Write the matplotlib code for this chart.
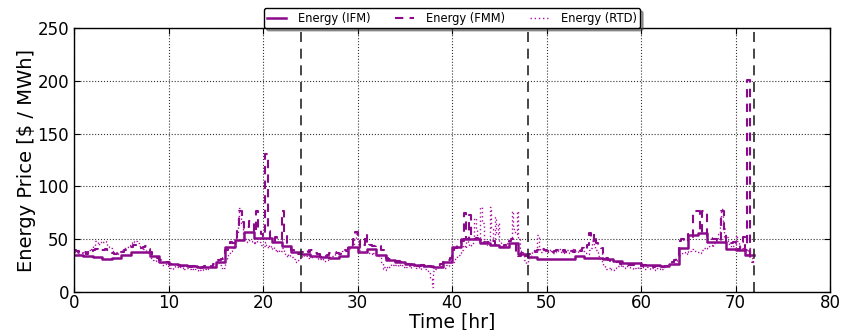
import matplotlib
matplotlib.use("Agg")
import matplotlib.pyplot as plt
import numpy as np

# 日前市场 (IFM) 小时价格, $/MWh
ifm_price = [
    35.5, 34, 33, 31.5, 32.5, 35.5, 38, 38, 34, 28.5, 27, 26,
    24.5, 23.5, 23.5, 28.5, 43, 49.5, 57, 51, 51, 47.5, 44, 37.5,
    36, 34.5, 33.5, 32.5, 34.5, 42.5, 38, 41, 35.5, 30, 28.5, 27,
    25.5, 24.5, 23.5, 28.5, 42.5, 50.5, 50.5, 46, 44.5, 42.5, 46.5, 36,
    33.5, 31.5, 31.5, 31.5, 31, 34.5, 32, 32, 31.5, 29.5, 27.5, 27.5,
    25.5, 25.5, 24.5, 26.5, 41.5, 54, 56, 47.5, 47.5, 41, 39.5, 35,
]

# 15 分钟市场 (FMM), 每小时 4 个值
fmm_price = [
    40, 39, 37, 38,   38, 36, 40, 39,   40, 41, 39, 40,   40, 41, 40, 38,
    37, 36, 38, 37,   38, 40, 41, 42,   43, 45, 45, 44,   42, 43, 44, 41,
    38, 36, 34, 32,   30, 29, 28, 28,   27, 27, 26, 26,   26, 25, 25, 26,
    25, 24, 25, 24,   24, 23, 24, 25,   25, 26, 24, 27,   29, 30, 31, 32,
    40, 44, 47, 46,   50, 62, 77, 66,   60, 62, 67, 67,   56, 77, 60, 55,
    52, 131, 58, 50,  48, 52, 50, 49,   77, 55, 46, 45,   40, 38, 37, 36,
    38, 39, 40, 38,   40, 38, 37, 36,   34, 33, 34, 35,   37, 38, 38, 37,
    36, 38, 40, 39,   42, 45, 50, 57,   54, 42, 45, 55,   44, 45, 44, 44,
    45, 44, 40, 37,   32, 31, 30, 30,   29, 29, 28, 28,   27, 27, 26, 27,
    26, 25, 25, 26,   24, 24, 25, 24,   24, 25, 26, 27,   28, 29, 30, 32,
    38, 42, 45, 46,   48, 75, 50, 73,   52, 50, 51, 50,   48, 47, 46, 47,
    46, 48, 45, 44,   44, 43, 45, 44,   48, 50, 47, 35,   34, 37, 33, 34,
    36, 38, 39, 38,   40, 39, 41, 40,   39, 40, 38, 39,   40, 39, 38, 40,
    38, 40, 39, 38,   40, 41, 39, 42,   40, 45, 56, 48,   55, 46, 44, 42,
    36, 32, 30, 29,   29, 28, 28, 27,   27, 27, 26, 26,   26, 27, 26, 26,
    25, 26, 25, 25,   25, 24, 25, 26,   24, 24, 25, 25,   27, 28, 30, 32,
    48, 50, 49, 47,   55, 52, 77, 77,   77, 56, 77, 77,   52, 51, 50, 50,
    48, 47, 77, 60,   47, 48, 46, 47,   45, 40, 47, 52,   40, 201, 30, 28,
]

# 实时调度 (RTD), 每小时 6 个值
rtd_price = [
    38, 37, 38, 36, 37, 39,   37, 36, 38, 40, 39, 41,   44, 48, 47, 45, 46, 48,
    47, 48, 46, 44, 43, 42,   39, 38, 37, 36, 37, 38,   40, 41, 42, 43, 44, 45,
    46, 48, 47, 48, 46, 44,   42, 43, 41, 40, 38, 37,   35, 32, 30, 29, 30, 29,
    28, 27, 26, 26, 27, 25,   24, 23, 22, 24, 25, 24,   25, 24, 23, 24, 22, 23,
    23, 22, 21, 22, 23, 22,   21, 20, 21, 22, 21, 22,   23, 22, 24, 25, 26, 25,
    27, 28, 26, 24, 22, 23,   30, 34, 37, 39, 40, 42,   45, 55, 72, 80, 65, 52,
    50, 48, 47, 49, 48, 46,   48, 46, 50, 52, 47, 45,   44, 47, 43, 42, 45, 41,
    43, 40, 41, 38, 40, 39,   42, 38, 35, 33, 36, 34,   33, 31, 30, 28, 30, 32,
    34, 33, 35, 34, 32, 33,   33, 32, 34, 33, 31, 32,   31, 30, 31, 29, 30, 31,
    32, 33, 34, 35, 36, 37,   38, 37, 39, 40, 41, 40,   41, 43, 44, 45, 50, 56,
    48, 40, 38, 37, 39, 38,   38, 37, 36, 38, 37, 36,   35, 34, 33, 28, 22, 24,
    21, 25, 24, 27, 26, 25,   26, 25, 27, 25, 26, 24,   25, 24, 25, 23, 24, 25,
    24, 23, 24, 22, 23, 24,   23, 22, 21, 18, 12, 5,    20, 22, 23, 24, 25, 26,
    24, 23, 26, 25, 27, 28,   28, 30, 32, 34, 35, 37,   40, 45, 42, 48, 46, 44,
    45, 52, 70, 60, 48, 46,   81, 65, 50, 47, 45, 48,   81, 60, 50, 71, 55, 65,
    47, 44, 45, 43, 46, 44,   45, 50, 77, 60, 55, 77,   50, 42, 38, 35, 30, 26,
    30, 32, 35, 38, 40, 37,   54, 42, 38, 40, 41, 39,   38, 40, 41, 39, 37, 38,
    40, 39, 41, 38, 37, 39,   38, 40, 37, 39, 41, 40,   39, 38, 40, 42, 41, 39,
    38, 37, 36, 40, 42, 48,   44, 40, 38, 34, 30, 28,   26, 24, 22, 23, 21, 22,
    21, 23, 24, 25, 26, 24,   25, 24, 23, 25, 24, 23,   23, 22, 23, 24, 22, 23,
    24, 23, 22, 23, 24, 23,   22, 23, 22, 21, 23, 22,   23, 22, 24, 23, 25, 26,
    26, 27, 28, 27, 29, 30,   33, 35, 37, 38, 36, 39,   38, 39, 41, 40, 39, 38,
    38, 37, 39, 40, 42, 41,   42, 44, 45, 43, 46, 48,   50, 55, 70, 79, 60, 52,
    52, 48, 45, 43, 44, 42,   54, 48, 44, 42, 40, 43,   38, 36, 42, 35, 32, 28,
]

day_marks = [24, 48, 72]

color = '#8b0a8b'

fig = plt.figure(figsize=(8.48, 3.3), dpi=100)
ax = fig.add_axes([0.0873, 0.115, 0.8915, 0.80])


def step_xy(values, per_hour):
    # 末尾补一个点，让阶梯画到该时段结束
    v = np.asarray(values, dtype=float)
    t = np.arange(len(v) + 1) / per_hour
    return t, np.append(v, v[-1])


t, y = step_xy(ifm_price, 1)
ax.step(t, y, where='post', color=color, lw=1.8, label='Energy (IFM)')
t, y = step_xy(fmm_price, 4)
ax.step(t, y, where='post', color=color, lw=1.5, ls=(0, (4, 3)), label='Energy (FMM)')
t, y = step_xy(rtd_price, 6)
ax.step(t, y, where='post', color='#a6169f', lw=1.0, ls=(0, (1, 2)), label='Energy (RTD)')

for d in day_marks:
    ax.axvline(d, color='0.15', lw=1.2, ls=(0, (6, 4)))

ax.set_xlim(0, 80)
ax.set_ylim(0, 250)
ax.set_xticks(np.arange(0, 81, 10))
ax.set_yticks(np.arange(0, 251, 50))
ax.tick_params(direction='in', top=True, right=True, labelsize=12, length=4)
ax.tick_params(axis='x', pad=1.5)
ax.grid(True, color='k', ls=':', lw=0.8, alpha=0.8)
for s in ax.spines.values():
    s.set_linewidth(1.0)

ax.set_xlabel('Time [hr]', fontsize=13.5, labelpad=0)
ax.set_ylabel('Energy Price [$ / MWh]', fontsize=14, labelpad=1)

leg = ax.legend(loc='lower center', bbox_to_anchor=(0.5, 1.0), ncol=3,
                fontsize=8.3, frameon=True, fancybox=True, shadow=True,
                framealpha=1, edgecolor='k', borderpad=0.3,
                handlelength=1.6, handletextpad=1.1, columnspacing=2.1,
                borderaxespad=0)
leg.get_frame().set_linewidth(1.0)

fig.savefig('out.png', dpi=100)
plt.close(fig)
